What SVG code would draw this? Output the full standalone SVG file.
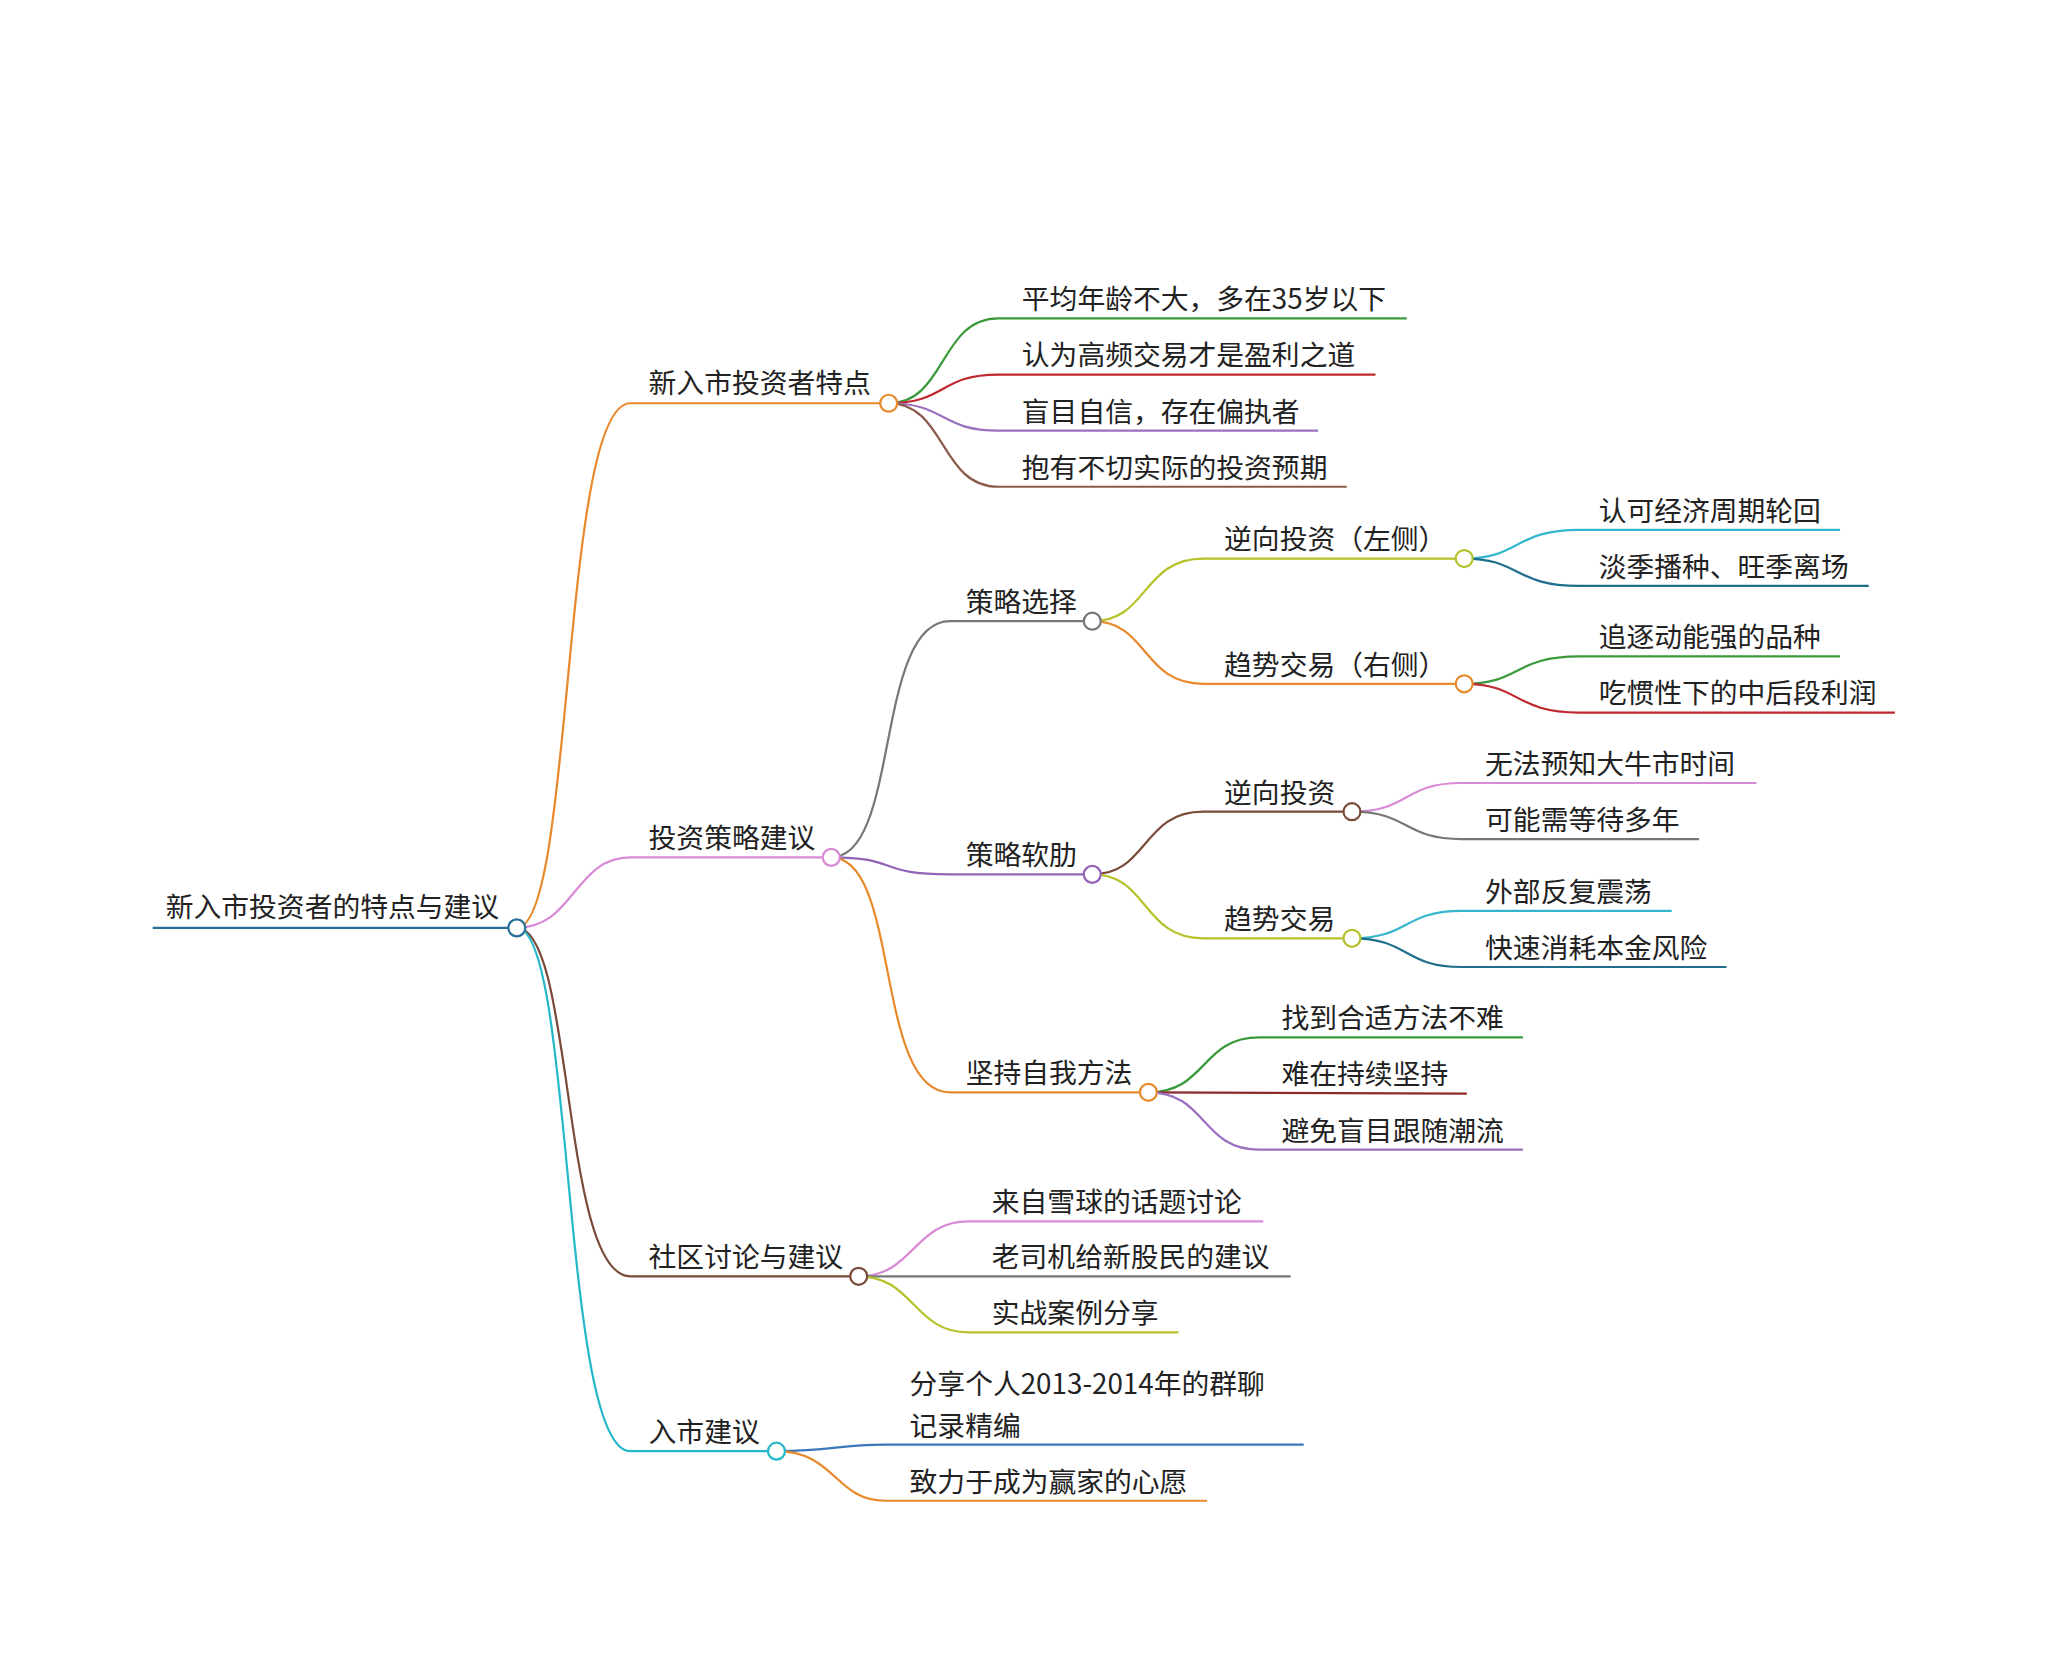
<svg xmlns="http://www.w3.org/2000/svg" width="2046" height="1653" viewBox="0 0 2046 1653">
<style>
text{font-family:"Noto Sans CJK SC","Noto Sans",sans-serif;font-size:21.3px;fill:#222}
.c path,.c line{fill:none;stroke-width:1.7}
circle{fill:#fff;stroke-width:1.7}
</style>
<rect width="2046" height="1653" fill="#fff"/>
<g transform="scale(1.305)">
<g id="connectors" class="c">
<line x1="117" y1="711" x2="390" y2="711" stroke="#2a6f96" stroke-width="2.5"/>
<path d="M396 711 C440 711 430 309 483 309 L675 309" stroke="#e8892b"/>
<path d="M396 711 C440 711 440 657 483 657 L631 657" stroke="#d98ad6"/>
<path d="M396 711 C440 711 430 978 483 978 L652 978" stroke="#7a4a3a"/>
<path d="M396 711 C440 711 430 1112 483 1112 L589 1112" stroke="#25b8c8"/>
<path d="M681 309 C725 309 720 244 765 244 L1078 244" stroke="#3a9a3a"/>
<path d="M681 309 C725 309 720 287 765 287 L1054 287" stroke="#c0282e"/>
<path d="M681 309 C725 309 720 330 765 330 L1010 330" stroke="#9a70c0"/>
<path d="M681 309 C725 309 720 373 765 373 L1032 373" stroke="#8a5a4a"/>
<path d="M637 657 C690 657 670 476 728 476 L831 476" stroke="#777"/>
<path d="M637 657 C690 657 670 670 728 670 L831 670" stroke="#9264b8"/>
<path d="M637 657 C690 657 670 837 728 837 L874 837" stroke="#e8892b"/>
<path d="M837 476 C880 476 875 428 922 428 L1116 428" stroke="#b5c22a"/>
<path d="M837 476 C880 476 875 524 922 524 L1116 524" stroke="#e8892b"/>
<path d="M1122 428 C1165 428 1160 406 1210 406 L1410 406" stroke="#36b6cc"/>
<path d="M1122 428 C1165 428 1160 449 1210 449 L1432 449" stroke="#1e6e8c"/>
<path d="M1122 524 C1165 524 1160 503 1210 503 L1410 503" stroke="#3a9a3a"/>
<path d="M1122 524 C1165 524 1160 546 1210 546 L1452 546" stroke="#c0282e"/>
<path d="M837 670 C880 670 875 622 922 622 L1030 622" stroke="#7a4a3a"/>
<path d="M837 670 C880 670 875 719 922 719 L1030 719" stroke="#b5c22a"/>
<path d="M1036 622 C1080 622 1075 600 1120 600 L1346 600" stroke="#d98ad6"/>
<path d="M1036 622 C1080 622 1075 643 1120 643 L1302 643" stroke="#777"/>
<path d="M1036 719 C1080 719 1075 698 1120 698 L1281 698" stroke="#36b6cc"/>
<path d="M1036 719 C1080 719 1075 741 1120 741 L1323 741" stroke="#1e6e8c"/>
<path d="M880 837 C925 837 920 795 965 795 L1167 795" stroke="#3a9a3a"/>
<path d="M880 837 L1124 838" stroke="#8b2b2b"/>
<path d="M880 837 C925 837 920 881 965 881 L1167 881" stroke="#9a70c0"/>
<path d="M658 978 C700 978 700 936 742 936 L968 936" stroke="#d98ad6"/>
<path d="M658 978 L989 978" stroke="#777"/>
<path d="M658 978 C700 978 700 1021 742 1021 L903 1021" stroke="#b5c22a"/>
<path d="M595 1112 C640 1112 640 1107 678 1107 L999 1107" stroke="#3a78b8"/>
<path d="M595 1112 C640 1112 640 1150 678 1150 L925 1150" stroke="#e8892b"/>
</g>
<g id="root"><text x="127" y="703">新入市投资者的特点与建议</text><circle cx="396" cy="711" r="6.5" stroke="#2a6f96"/></g>
<g id="n1"><text x="497" y="301">新入市投资者特点</text><circle cx="681" cy="309" r="6.5" stroke="#e8892b"/></g>
<g id="n1a"><text x="783" y="237">平均年龄不大，多在35岁以下</text></g>
<g id="n1b"><text x="783" y="280">认为高频交易才是盈利之道</text></g>
<g id="n1c"><text x="783" y="323">盲目自信，存在偏执者</text></g>
<g id="n1d"><text x="783" y="366">抱有不切实际的投资预期</text></g>
<g id="n2"><text x="497" y="650">投资策略建议</text><circle cx="637" cy="657" r="6.5" stroke="#d98ad6"/></g>
<g id="n21"><text x="740" y="469">策略选择</text><circle cx="837" cy="476" r="6.5" stroke="#777"/></g>
<g id="n211"><text x="938" y="421">逆向投资（左侧）</text><circle cx="1122" cy="428" r="6.5" stroke="#b5c22a"/></g>
<g id="n2111"><text x="1225" y="399">认可经济周期轮回</text></g>
<g id="n2112"><text x="1225" y="442">淡季播种、旺季离场</text></g>
<g id="n212"><text x="938" y="517">趋势交易（右侧）</text><circle cx="1122" cy="524" r="6.5" stroke="#e8892b"/></g>
<g id="n2121"><text x="1225" y="496">追逐动能强的品种</text></g>
<g id="n2122"><text x="1225" y="539">吃惯性下的中后段利润</text></g>
<g id="n22"><text x="740" y="663">策略软肋</text><circle cx="837" cy="670" r="6.5" stroke="#9264b8"/></g>
<g id="n221"><text x="938" y="615">逆向投资</text><circle cx="1036" cy="622" r="6.5" stroke="#7a4a3a"/></g>
<g id="n2211"><text x="1138" y="593">无法预知大牛市时间</text></g>
<g id="n2212"><text x="1138" y="636">可能需等待多年</text></g>
<g id="n222"><text x="938" y="712">趋势交易</text><circle cx="1036" cy="719" r="6.5" stroke="#b5c22a"/></g>
<g id="n2221"><text x="1138" y="691">外部反复震荡</text></g>
<g id="n2222"><text x="1138" y="734">快速消耗本金风险</text></g>
<g id="n23"><text x="740" y="830">坚持自我方法</text><circle cx="880" cy="837" r="6.5" stroke="#e8892b"/></g>
<g id="n231"><text x="982" y="788">找到合适方法不难</text></g>
<g id="n232"><text x="982" y="831">难在持续坚持</text></g>
<g id="n233"><text x="982" y="874">避免盲目跟随潮流</text></g>
<g id="n3"><text x="497" y="971">社区讨论与建议</text><circle cx="658" cy="978" r="6.5" stroke="#7a4a3a"/></g>
<g id="n31"><text x="760" y="929">来自雪球的话题讨论</text></g>
<g id="n32"><text x="760" y="971">老司机给新股民的建议</text></g>
<g id="n33"><text x="760" y="1014">实战案例分享</text></g>
<g id="n4"><text x="497" y="1105">入市建议</text><circle cx="595" cy="1112" r="6.5" stroke="#25b8c8"/></g>
<g id="n41"><text x="697" y="1068">分享个人2013-2014年的群聊</text><text x="697" y="1100">记录精编</text></g>
<g id="n42"><text x="697" y="1143">致力于成为赢家的心愿</text></g>
</g>
</svg>
